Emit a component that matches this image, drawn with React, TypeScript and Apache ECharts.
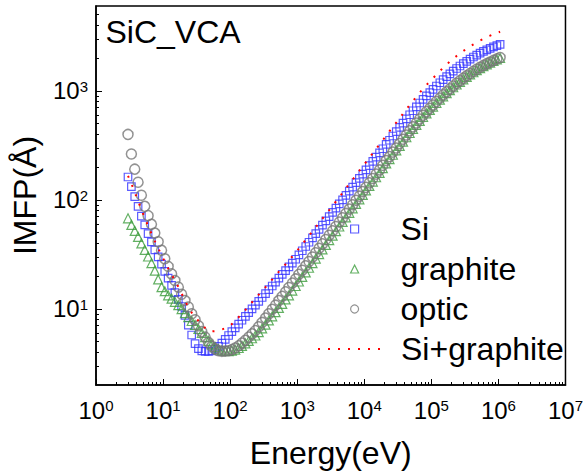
import React, { useEffect, useRef } from 'react';
import * as echarts from 'echarts';

const FONT = "'Liberation Sans', Arial, Helvetica, sans-serif";

// Energy grid (eV)
const energy = [
  3.0, 3.37, 3.78, 4.24, 4.75, 5.33, 5.98, 6.71, 7.53, 8.45, 9.49, 10.6, 11.9, 13.4, 15.0, 16.9, 18.9, 21.2, 23.8, 26.7,
  30.0, 33.7, 37.8, 42.4, 47.5, 53.3, 59.8, 67.1, 75.3, 84.5, 94.9, 106, 119, 134, 150, 169, 189, 212, 238, 267,
  300, 337, 378, 424, 475, 533, 598, 671, 753, 845, 949, 1060, 1190, 1340, 1500, 1690, 1890, 2120, 2380, 2670,
  3000, 3370, 3780, 4240, 4750, 5330, 5980, 6710, 7530, 8450, 9490, 10600, 11900, 13400, 15000, 16900, 18900, 21200, 23800, 26700,
  30000, 33700, 37800, 42400, 47500, 53300, 59800, 67100, 75300, 84500, 94900, 106000, 119000, 134000, 150000, 169000, 189000, 212000, 238000, 267000,
  300000, 337000, 378000, 424000, 475000, 533000, 598000, 671000, 753000, 845000, 949000, 1060000,
];

// IMFP (Å)
const si = [
  162, 132, 107, 87.1, 70.8, 58.9, 49.0, 41.2, 34.7, 29.9, 25.7, 22.1, 19.1, 16.4, 14.1, 12.2, 10.5, 8.71, 7.08, 5.75,
  4.79, 4.32, 4.12, 4.07, 4.07, 4.12, 4.27, 4.52, 4.84, 5.25, 5.69, 6.17, 6.68, 7.24, 7.85, 8.51, 9.23, 10.0, 10.8, 11.7,
  12.7, 13.8, 15.0, 16.2, 17.6, 19.1, 20.7, 22.4, 24.3, 26.3, 28.5, 31.2, 34.1, 37.3, 40.8, 44.7, 48.9, 53.5, 58.5, 64.0,
  70.0, 76.6, 83.8, 91.6, 100, 110, 120, 131, 144, 157, 172, 188, 206, 225, 246, 269, 294, 322, 352, 385,
  422, 461, 505, 552, 603, 656, 713, 773, 836, 899, 964, 1030, 1107, 1186, 1268, 1349, 1432, 1517, 1603, 1690,
  1778, 1866, 1954, 2042, 2128, 2213, 2296, 2377, 2455, 2529, 2600, 2667,
];

const graphite = [
  67.6, 58.9, 51.9, 45.7, 39.8, 34.7, 30.2, 26.2, 22.4, 18.6, 15.8, 14.5, 13.3, 12.4, 11.6, 10.8, 9.95, 9.12, 8.39, 7.73,
  7.11, 6.53, 6.0, 5.51, 5.08, 4.72, 4.45, 4.25, 4.15, 4.1, 4.09, 4.14, 4.22, 4.37, 4.57, 4.81, 5.07, 5.37, 5.69, 6.1,
  6.61, 7.16, 7.82, 8.53, 9.31, 10.2, 11.1, 12.2, 13.3, 14.7, 16.2, 17.8, 19.6, 21.6, 23.8, 26.2, 28.9, 31.8, 35.1, 38.6,
  42.6, 46.9, 51.6, 56.9, 62.7, 69.0, 76.0, 83.6, 91.8, 101, 111, 122, 134, 147, 161, 177, 195, 216, 236, 259,
  284, 312, 342, 375, 410, 447, 486, 530, 575, 621, 668, 717, 773, 831, 891, 952, 1014, 1078, 1143, 1209,
  1276, 1345, 1413, 1481, 1549, 1616, 1683, 1748, 1811, 1877, 1941, 2000,
];

const optic = [
  398, 263, 191, 145, 110, 87.1, 71.6, 59.6, 49.5, 41.2, 34.4, 28.8, 24.5, 20.9, 18.2, 15.8, 13.6, 11.9, 10.4, 9.02,
  7.94, 7.0, 6.17, 5.5, 4.9, 4.52, 4.27, 4.12, 4.07, 4.09, 4.12, 4.22, 4.37, 4.57, 4.84, 5.15, 5.5, 5.89, 6.31, 6.84,
  7.5, 8.22, 9.02, 9.89, 10.8, 11.9, 13.0, 14.3, 15.7, 17.2, 18.8, 20.7, 22.6, 24.8, 27.2, 29.9, 32.7, 35.9, 39.4, 43.2,
  47.3, 51.9, 56.9, 62.4, 68.4, 75.0, 82.2, 90.2, 98.9, 108, 119, 130, 143, 157, 172, 188, 207, 229, 249, 274,
  299, 328, 359, 393, 429, 467, 507, 551, 597, 644, 692, 741, 798, 857, 918, 979, 1042, 1107, 1172, 1239,
  1306, 1374, 1442, 1510, 1578, 1644, 1710, 1774, 1837, 1901, 1963, 2023,
];

const siGraphite = [
  166, 141, 117, 97.7, 81.3, 68.1, 57.5, 49.0, 41.7, 35.9, 31.3, 27.0, 23.5, 20.7, 18.1, 15.9, 13.8, 11.9, 10.4, 9.23,
  8.41, 7.76, 7.24, 6.68, 6.27, 6.21, 6.24, 6.34, 6.46, 6.64, 6.89, 7.24, 7.78, 8.38, 9.02, 9.77, 10.6, 11.5, 12.4, 13.5,
  14.6, 15.8, 17.2, 18.6, 20.2, 21.9, 23.7, 25.7, 27.9, 30.2, 32.7, 35.8, 39.2, 42.9, 46.9, 51.3, 56.1, 61.4, 67.1, 73.5,
  80.4, 88.1, 96.6, 106, 116, 128, 140, 153, 169, 185, 203, 222, 244, 268, 294, 322, 353, 387, 426, 467,
  512, 561, 617, 676, 740, 807, 883, 962, 1045, 1130, 1216, 1306, 1409, 1517, 1629, 1742, 1858, 1972, 2089, 2208,
  2323, 2438, 2553, 2667, 2780, 2891, 2999, 3105, 3206, 3304, 3396, 3483,
];

const seriesNames = ['Si', 'graphite', 'optic', 'Si+graphite'];
const xRange = [1, 1e7];
const yRange = [2, 6000];
const xDecadeExps = [0, 1, 2, 3, 4, 5, 6, 7];
const yDecadeExps = [1, 2, 3];

const lg = (v: number) => Math.log10(v);

function minorTicks(lo: number, hi: number): number[] {
  const out: number[] = [];
  for (let e = Math.floor(lg(lo)); e <= Math.ceil(lg(hi)); e++) {
    for (let m = 2; m <= 9; m++) {
      const v = m * Math.pow(10, e);
      if (v > lo * 1.0001 && v < hi * 0.9999) out.push(lg(v));
    }
  }
  return out;
}

const toPairs = (ys: number[]) => energy.map((e, i) => [lg(e), lg(ys[i])]);

const AXIS_COLOR = '#000';
const BLUE = '#3232ff';
const GREEN = '#3c9c3c';
const GRAY = '#777777';
const RED = '#ff0000';

function buildOption() {
  const xMin = lg(xRange[0]);
  const xMax = lg(xRange[1]);
  const yMin = lg(yRange[0]);
  const yMax = lg(yRange[1]);
  const tickLine = { color: AXIS_COLOR, width: 1 };
  const supFmt = (v: number) => `10{s|${Math.round(v)}}`;
  const rich = { s: { fontSize: 15, fontFamily: FONT, color: '#000', verticalAlign: 'top' as const } };
  const bigText = { fontSize: 32, fontFamily: FONT, color: '#000' };

  return {
    animation: false,
    backgroundColor: '#fff',
    grid: {
      left: 96, top: 6, width: 470, height: 379,
      show: true, borderColor: '#000', borderWidth: 1.5, backgroundColor: 'transparent',
    },
    xAxis: [
      {
        type: 'value', min: xMin, max: xMax, position: 'bottom',
        name: 'Energy(eV)', nameLocation: 'middle', nameGap: 52,
        nameTextStyle: bigText,
        axisLine: { show: true, lineStyle: { color: AXIS_COLOR, width: 1.5 } },
        axisTick: { show: true, inside: true, length: 6, customValues: xDecadeExps, lineStyle: tickLine },
        axisLabel: {
          show: true, customValues: xDecadeExps, formatter: supFmt, margin: 13,
          fontSize: 24, fontFamily: FONT, color: '#000', rich,
        },
        splitLine: { show: false },
      },
      {
        type: 'value', min: xMin, max: xMax, position: 'bottom',
        axisLine: { show: false },
        axisTick: { show: true, inside: true, length: 3, customValues: minorTicks(xRange[0], xRange[1]), lineStyle: tickLine },
        axisLabel: { show: false },
        splitLine: { show: false },
      },
    ],
    yAxis: [
      {
        type: 'value', min: yMin, max: yMax, position: 'left',
        name: 'IMFP(Å)', nameLocation: 'middle', nameGap: 55, nameRotate: 90,
        nameTextStyle: bigText,
        axisLine: { show: true, lineStyle: { color: AXIS_COLOR, width: 1.5 } },
        axisTick: { show: true, inside: true, length: 6, customValues: yDecadeExps, lineStyle: tickLine },
        axisLabel: {
          show: true, customValues: yDecadeExps, formatter: supFmt, margin: 8,
          fontSize: 24, fontFamily: FONT, color: '#000', rich,
        },
        splitLine: { show: false },
      },
      {
        type: 'value', min: yMin, max: yMax, position: 'left',
        axisLine: { show: false },
        axisTick: { show: true, inside: true, length: 3, customValues: minorTicks(yRange[0], yRange[1]), lineStyle: tickLine },
        axisLabel: { show: false },
        splitLine: { show: false },
      },
    ],
    legend: [
      {
        orient: 'vertical', left: 350, top: 213, padding: 0,
        itemWidth: 8, itemHeight: 8, itemGap: 8,
        textStyle: { ...bigText, padding: [0, 0, 0, 37] },
        itemStyle: { borderWidth: 1.2 },
        data: [
          { name: seriesNames[0], icon: 'rect' },
          { name: seriesNames[1], icon: 'triangle' },
          { name: seriesNames[2], icon: 'circle' },
        ],
      },
      {
        orient: 'vertical', left: 317, top: 333, padding: 0,
        itemWidth: 67, itemHeight: 8, itemGap: 8,
        textStyle: { ...bigText, padding: [0, 0, 0, 11] },
        data: [{ name: seriesNames[3], itemStyle: { opacity: 0 } }],
      },
    ],
    graphic: [
      {
        type: 'text', z: 100,
        style: { x: 105.5, y: 31.7, text: 'SiC_VCA', fontSize: 32, fontFamily: FONT, fill: '#000', verticalAlign: 'middle' },
      },
    ],
    series: [
      {
        name: seriesNames[0], type: 'scatter', data: toPairs(si),
        symbol: 'rect', symbolSize: 7.5,
        itemStyle: { color: 'rgba(255,255,255,0)', borderColor: BLUE, borderWidth: 1.2 },
      },
      {
        name: seriesNames[1], type: 'scatter', data: toPairs(graphite),
        symbol: 'triangle', symbolSize: 9,
        itemStyle: { color: 'rgba(255,255,255,0)', borderColor: GREEN, borderWidth: 1.2 },
      },
      {
        name: seriesNames[2], type: 'scatter', data: toPairs(optic),
        symbol: 'circle', symbolSize: 10,
        itemStyle: { color: 'rgba(255,255,255,0)', borderColor: GRAY, borderWidth: 1.5 },
      },
      {
        name: seriesNames[3], type: 'line', data: toPairs(siGraphite),
        symbol: 'none', smooth: false,
        lineStyle: { color: RED, width: 2, type: [2, 8] },
        itemStyle: { color: RED },
      },
    ],
  };
}

export default function App() {
  const ref = useRef<HTMLDivElement>(null);
  useEffect(() => {
    if (!ref.current) return;
    const chart = echarts.init(ref.current, undefined, { renderer: 'svg' });
    chart.setOption(buildOption() as any);
    return () => chart.dispose();
  }, []);
  return <div ref={ref} style={{ position: 'fixed', left: 0, top: 0, width: 586, height: 474 }} />;
}
